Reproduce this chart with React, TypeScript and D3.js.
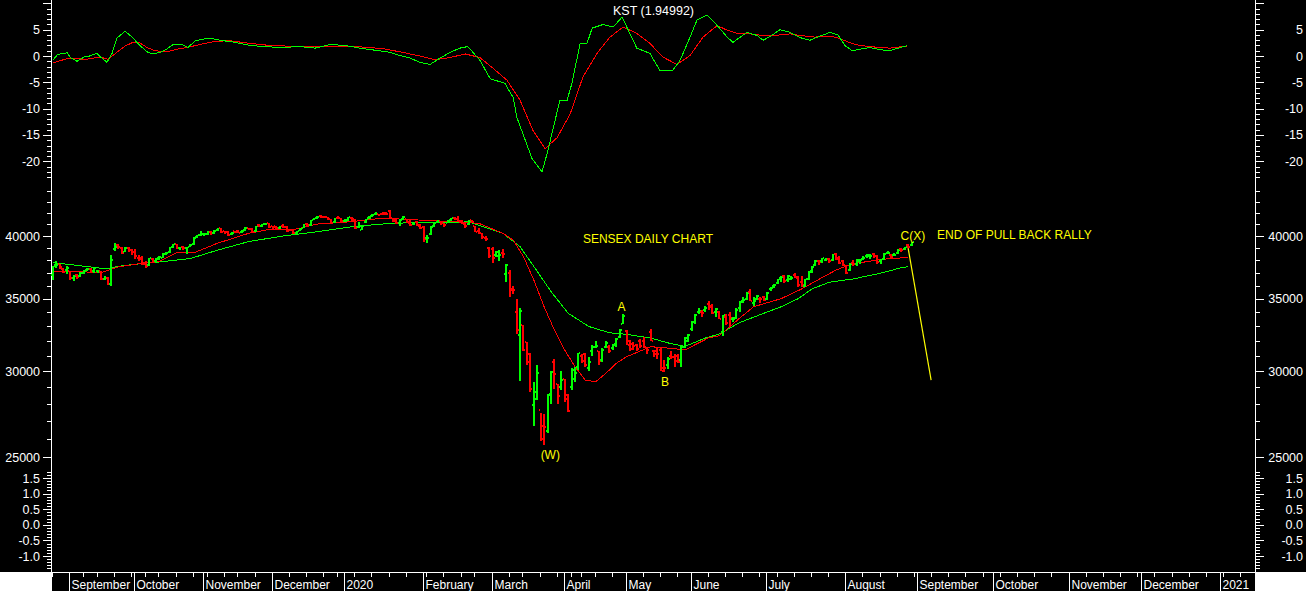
import React from 'react';
import * as d3 from 'd3';

// ---------- calendar ----------
const calendarStart = '2019-08-26';
const calendarEnd = '2021-01-16';
const pastHolidays = [
  '2019-09-02', '2019-09-10', '2019-10-02', '2019-10-08', '2019-10-21', '2019-10-28',
  '2019-11-12', '2019-12-25', '2020-02-21', '2020-03-10', '2020-04-02', '2020-04-06',
  '2020-04-10', '2020-04-14', '2020-05-01', '2020-05-25',
];
const specialSessions = ['2019-10-27', '2020-02-01'];
const monthNames = ['', 'February', 'March', 'April', 'May', 'June', 'July', 'August', 'September', 'October', 'November', 'December'];

// ---------- SENSEX daily OHLC [open, high, low, close] ----------
const aug2019 = [
  [36850, 37550, 36450, 37494], [37600, 37900, 37350, 37641], [37650, 37700, 37300, 37451],
  [37300, 37400, 36950, 37068], [37200, 37500, 36900, 37332],
];
const sep2019 = [
  [37100, 37150, 36450, 36563], [36600, 36800, 36350, 36725], [36800, 36900, 36500, 36644],
  [36700, 37050, 36650, 36982], [37000, 37200, 36900, 37145], [37200, 37400, 37100, 37271],
  [37300, 37350, 37050, 37104], [37100, 37450, 37000, 37385], [37100, 37200, 36950, 37123],
  [37100, 37150, 36450, 36481], [36500, 36750, 36400, 36564], [36600, 36650, 36050, 36094],
  [36100, 38380, 35990, 38015], [38900, 39440, 38750, 39090], [39200, 39300, 38900, 39098],
  [39000, 39050, 38500, 38593], [38700, 39050, 38650, 38990], [39000, 39100, 38700, 38823],
  [38800, 38900, 38400, 38667],
];
const oct2019 = [
  [38700, 38950, 38100, 38306], [38200, 38400, 37900, 38106], [38200, 38300, 37600, 37673],
  [37700, 37900, 37400, 37532], [37600, 38200, 37500, 38178], [38100, 38200, 37800, 37880],
  [37900, 38200, 37850, 38127], [38200, 38300, 38000, 38214], [38200, 38550, 38150, 38506],
  [38500, 38650, 38400, 38598], [38700, 39100, 38600, 39052], [39100, 39350, 39000, 39298],
  [39300, 39350, 38900, 38964], [39000, 39100, 38800, 39059], [39100, 39150, 38800, 39020],
  [39000, 39100, 38500, 39058], [39100, 39300, 39050, 39250], [39300, 39900, 39250, 39832],
  [39900, 40100, 39800, 40051], [40100, 40400, 40000, 40129],
];
const nov2019 = [
  [40150, 40250, 40000, 40165], [40200, 40400, 40100, 40302], [40350, 40400, 40050, 40248],
  [40250, 40500, 40200, 40469], [40500, 40700, 40450, 40654], [40650, 40700, 40250, 40324],
  [40400, 40450, 40200, 40345], [40350, 40450, 40000, 40116], [40200, 40350, 40100, 40287],
  [40400, 40450, 40250, 40357], [40400, 40500, 40250, 40284], [40300, 40500, 40250, 40470],
  [40500, 40800, 40450, 40651], [40650, 40700, 40500, 40575], [40600, 40650, 40300, 40359],
  [40400, 40900, 40350, 40890], [40950, 41000, 40750, 40821], [40850, 41050, 40800, 41021],
  [41050, 41160, 40950, 41130], [41100, 41100, 40700, 40794],
];
const dec2019 = [
  [40850, 40900, 40600, 40802], [40850, 40900, 40600, 40675], [40700, 40900, 40600, 40850],
  [40850, 41000, 40700, 40780], [40800, 40850, 40350, 40445], [40500, 40600, 40400, 40487],
  [40500, 40550, 40200, 40240], [40250, 40450, 40150, 40413], [40450, 40650, 40400, 40582],
  [40700, 41050, 40650, 41010], [41050, 41100, 40900, 40939], [40950, 41400, 40900, 41353],
  [41400, 41600, 41350, 41559], [41600, 41700, 41500, 41674], [41700, 41810, 41600, 41682],
  [41650, 41750, 41550, 41642], [41650, 41650, 41400, 41461], [41450, 41500, 41100, 41164],
  [41200, 41600, 41150, 41575], [41600, 41700, 41500, 41558], [41550, 41600, 41200, 41254],
];
const jan2020 = [
  [41300, 41450, 41200, 41306], [41350, 41650, 41300, 41626], [41600, 41650, 41300, 41465],
  [41400, 41450, 40600, 40677], [40800, 41250, 40700, 40869], [40500, 40850, 40480, 40818],
  [41200, 41500, 41100, 41452], [41600, 41750, 41500, 41600], [41700, 41900, 41650, 41860],
  [41950, 42050, 41800, 41952], [41900, 41950, 41700, 41873], [41950, 42050, 41850, 41933],
  [42000, 42060, 41850, 41945], [42200, 42270, 41450, 41528], [41550, 41600, 41250, 41324],
  [41400, 41550, 41050, 41116], [41100, 41450, 40900, 41386], [41450, 41700, 41400, 41613],
  [41500, 41500, 41100, 41155], [41250, 41400, 40900, 40967], [41000, 41250, 40950, 41199],
  [41250, 41300, 40850, 40914], [40900, 41050, 40600, 40723],
];
const feb2020 = [
  [40800, 40900, 39500, 39736], [39800, 40100, 39400, 39872], [40200, 40850, 40100, 40790],
  [40900, 41200, 40800, 41142], [41200, 41400, 41100, 41306], [41300, 41300, 40950, 41142],
  [41100, 41100, 40800, 40980], [41150, 41400, 41100, 41216], [41350, 41600, 41300, 41566],
  [41600, 41650, 41350, 41460], [41500, 41700, 41200, 41258], [41300, 41400, 41000, 41056],
  [41100, 41150, 40700, 40894], [41000, 41350, 40950, 41323], [41350, 41400, 41100, 41170],
  [40900, 40900, 40300, 40363], [40450, 40700, 40200, 40282], [40250, 40250, 39750, 39889],
  [39800, 40000, 39600, 39746], [39000, 39100, 38200, 38297],
];
const mar2020 = [
  [38900, 39080, 37790, 38144], [38390, 38750, 38220, 38623], [38300, 38830, 37900, 38409],
  [38600, 38900, 38200, 38471], [36900, 37650, 36300, 37577], [36950, 37200, 35110, 35635],
  [35700, 36000, 35350, 35697], [34000, 35000, 32490, 32778], [32400, 34300, 29390, 34103],
  [33100, 33100, 31300, 31390], [31900, 31950, 30400, 30579], [31100, 31200, 28700, 28870],
  [27900, 29300, 26710, 28288], [28700, 30400, 28200, 29916], [27600, 27460, 25880, 25981],
  [26700, 27400, 25640, 26674], [26400, 28600, 26300, 28536], [28600, 30000, 28000, 29947],
  [30600, 30800, 28900, 29816], [29200, 29200, 28000, 28440], [29000, 30000, 28800, 29468],
];
const apr2020 = [
  [29500, 29500, 28100, 28265], [28500, 28600, 27500, 27591], [29000, 30200, 28800, 30067],
  [29500, 30300, 29300, 29894], [30300, 31200, 30100, 31160], [31000, 31100, 30500, 30690],
  [31100, 31200, 30300, 30380], [30200, 30900, 30000, 30603], [31300, 31700, 31000, 31589],
  [31600, 32000, 31500, 31648], [31300, 31300, 30400, 30637], [30700, 31500, 30600, 31380],
  [31600, 32000, 31500, 31863], [31600, 31700, 31200, 31327], [31500, 31800, 31400, 31744],
  [31800, 32200, 31600, 32115], [32300, 32800, 32200, 32720], [33200, 33890, 33170, 33718],
];
const may2020 = [
  [32700, 32750, 31700, 31715], [32000, 32050, 31300, 31453], [31800, 31900, 31400, 31686],
  [31700, 31800, 31300, 31443], [32000, 32100, 31550, 31642], [32000, 32300, 31500, 31561],
  [31500, 31600, 31100, 31371], [32600, 32850, 32000, 32009], [31300, 31400, 30900, 31122],
  [31300, 31500, 30800, 31098], [31400, 31500, 30000, 30029], [30200, 30700, 29970, 30196],
  [30400, 30900, 30150, 30819], [31000, 31300, 30800, 30932], [30900, 31100, 30300, 30673],
  [31000, 31100, 30500, 30609], [30700, 31700, 30300, 31605], [31600, 32300, 31500, 32201],
  [32000, 32500, 31900, 32424],
];
const jun2020 = [
  [32800, 33400, 32700, 33304], [33300, 33900, 33200, 33825], [34000, 34300, 33900, 34110],
  [34000, 34200, 33700, 33981], [34200, 34500, 34000, 34287], [34600, 34800, 34200, 34371],
  [34500, 34600, 33900, 33957], [34000, 34300, 33700, 34248], [34000, 34100, 33500, 33538],
  [32600, 33800, 32350, 33781], [33700, 33900, 33100, 33229], [33800, 34000, 33000, 33606],
  [33500, 33700, 33300, 33508], [33600, 34300, 33500, 34208], [34300, 34800, 34000, 34732],
  [34800, 35100, 34700, 34911], [35000, 35500, 34900, 35431], [35500, 35700, 34800, 34868],
  [34700, 35100, 34500, 34843], [35000, 35250, 34900, 35171], [35000, 35100, 34700, 34962],
  [35100, 35200, 34800, 34916],
];
const jul2020 = [
  [35000, 35500, 34900, 35414], [35700, 35900, 35600, 35843], [36000, 36100, 35800, 36022],
  [36200, 36500, 36100, 36487], [36600, 36700, 36300, 36675], [36700, 36800, 36200, 36330],
  [36400, 36800, 36300, 36738], [36500, 36700, 36400, 36594], [36800, 37000, 36600, 36694],
  [36600, 36700, 35900, 36033], [36300, 36700, 35900, 36052], [36000, 36500, 35900, 36472],
  [36500, 37100, 36400, 37020], [37100, 37500, 37000, 37418], [37600, 37990, 37500, 37930],
  [37900, 38000, 37600, 37872], [37900, 38200, 37800, 38140], [38000, 38200, 37900, 38129],
  [38100, 38200, 37800, 37935], [38000, 38500, 37900, 38493], [38500, 38600, 38000, 38071],
  [38200, 38300, 37700, 37736], [37900, 38000, 37500, 37607],
];
const aug2020 = [
  [37500, 37600, 36900, 36940], [37200, 37800, 37100, 37688], [37800, 38000, 37500, 37663],
  [37700, 38100, 37500, 38025], [37900, 38100, 37700, 38040], [38100, 38300, 38000, 38182],
  [38300, 38500, 38200, 38407], [38300, 38500, 38100, 38370], [38500, 38600, 38200, 38310],
  [38300, 38400, 37700, 37877], [37900, 38100, 37700, 38051], [38100, 38600, 38000, 38528],
  [38600, 38750, 38500, 38615], [38400, 38500, 38100, 38220], [38400, 38600, 38300, 38434],
  [38600, 38900, 38500, 38799], [38900, 39000, 38700, 38844], [38900, 39100, 38800, 39074],
  [39200, 39300, 39000, 39113], [39200, 39500, 39150, 39467],
];

// ---------- moving averages [trading day index, price] ----------
const maRed = [
  [0, 37100], [6, 37100], [14, 37000], [19, 37450], [27, 37800], [31, 37900], [36, 38600],
  [41, 38600], [48, 39400], [57, 40230], [63, 40570], [71, 40600], [77, 41030], [87, 41240],
  [96, 41550], [106, 41390], [116, 41250], [124, 41090], [131, 40230], [134, 39660],
  [137, 38280], [140, 36430], [143, 34410], [146, 32750], [149, 31390], [152, 30290],
  [155, 29440], [158, 29340], [161, 29870], [164, 30510], [167, 30940], [174, 31610],
  [180, 31500], [184, 31390], [191, 32220], [194, 32350], [200, 33600], [204, 34410],
  [212, 35010], [218, 35740], [224, 36620], [228, 37200], [233, 37740], [237, 37870],
  [241, 38060], [249, 38220],
];
const maGreen = [
  [0, 37800], [14, 37350], [16, 37300], [19, 37500], [28, 37800], [31, 37850], [40, 38130],
  [48, 38820], [57, 39530], [67, 40000], [77, 40370], [87, 40800], [96, 41030], [106, 41180],
  [116, 41150], [121, 41230], [131, 40230], [136, 39100], [141, 37100], [145, 35550],
  [150, 33940], [156, 33000], [162, 32560], [167, 32450], [174, 32200], [180, 31810],
  [184, 31630], [190, 32200], [194, 32470], [200, 33280], [207, 33940], [212, 34410],
  [217, 35010], [221, 35740], [226, 36250], [233, 36510], [241, 36960], [247, 37390],
  [249, 37480],
];

// ---------- KST [trading day index, value] ----------
const kstLine = [
  [0, -0.8], [1.2, 0.2], [2, 0.4], [3.5, 0.4], [4.1, 0.7], [5, -0.3], [7, -1.0], [9.3, -0.1],
  [10.2, -0.1], [12.8, 0.5], [13.7, -0.1], [15.7, -1.2], [17.2, 0.5], [18.6, 3.4], [21, 4.7],
  [23, 3.6], [25.3, 2.0], [27.4, 0.8], [28.8, 0.4], [31.2, 0.7], [32.6, 1.1], [35, 2.2],
  [37.6, 2.2], [39.3, 1.6], [41.4, 2.9], [42.8, 3.1], [45.7, 3.4], [48.6, 3.0], [53, 2.6],
  [57.4, 2.0], [61.7, 1.8], [66.1, 1.6], [71.9, 1.8], [76.3, 1.5], [80.7, 2.2], [85, 2.0],
  [89.4, 1.5], [93.8, 1.1], [98.1, 0.7], [101, 0.1], [104, -0.4], [106.9, -1.2],
  [109.8, -1.6], [112.7, -0.4], [115.6, 0.7], [118.5, 1.5], [120.8, 1.8], [124.3, -0.8],
  [127.3, -4.3], [131.6, -5.2], [134, -7.9], [135.1, -11.7], [139.5, -19.5], [142.4, -22],
  [143.9, -18.5], [145.3, -14.7], [147.6, -8.4], [149.7, -8.4], [151.1, -5.2], [153.5, 2.4],
  [155.5, 2.4], [157, 5.3], [160.2, 6.0], [163.1, 5.5], [165.7, 7.4], [167.1, 5.5],
  [170, 1.5], [173.8, 0.5], [176.7, -2.7], [180.5, -2.7], [182.6, -0.8], [185.5, 3.6],
  [187.5, 6.8], [190.4, 7.8], [193.4, 5.8], [196.3, 3.6], [198, 2.6], [202.1, 4.5],
  [205, 3.9], [206.8, 3.0], [208.8, 3.7], [211.7, 5.0], [214.6, 4.5], [217.5, 3.5],
  [220.4, 3.0], [223.4, 3.8], [226.3, 4.5], [228.6, 4.0], [230.6, 2.0], [232.7, 1.0],
  [235, 1.3], [237.9, 1.6], [240.8, 1.2], [243.7, 1.0], [246.1, 1.5], [248.7, 1.95],
];
const kstSignal = [
  [0, -1.3], [4.1, -0.5], [9.9, -0.6], [13.7, -0.2], [16, -0.6], [18.6, 0.7], [21, 1.9],
  [23.3, 2.6], [25.3, 2.5], [27.4, 1.6], [29.7, 1.0], [33.2, 0.8], [36.1, 1.3], [39, 1.6],
  [42.8, 2.2], [47.2, 2.8], [51.5, 2.9], [57.4, 2.4], [63.2, 2.0], [71.9, 1.8], [80.7, 1.9],
  [86.5, 1.9], [96, 1.4], [101, 0.8], [106.9, 0.0], [111.2, -0.7], [115.6, -0.3],
  [120, 0.4], [124.3, -0.3], [128.1, -2.3], [132.2, -4.6], [136, -8.4], [139.8, -14.2],
  [143.3, -17.6], [146.8, -15.5], [150.6, -11.0], [154.3, -4.0], [158.4, 0.5], [162.2, 3.6],
  [166, 5.5], [170, 4.3], [173.8, 2.4], [177.6, -0.2], [181.7, -1.6], [185.5, 0.1],
  [189.3, 3.6], [193.4, 5.8], [196.3, 4.9], [199.2, 4.3], [203, 4.2], [206.8, 3.9],
  [211.7, 4.0], [214.6, 4.2], [217.5, 3.9], [221.8, 3.6], [226.3, 3.8], [229.2, 3.3],
  [232.1, 2.5], [235, 2.0], [239.4, 1.7], [243.7, 1.5], [248.7, 1.9],
];

// ---------- annotations ----------
const kstTitle = 'KST (1.94992)';
const priceNotes = [
  { text: 'SENSEX DAILY CHART', i: 154.6, p: 39410, anchor: 'start' },
  { text: 'END OF PULL BACK RALLY', i: 257.7, p: 39745, anchor: 'start' },
  { text: 'C(X)', i: 247.1, p: 39703, anchor: 'start' },
  { text: 'A', i: 165.8, p: 34090, anchor: 'middle' },
  { text: 'B', i: 178.5, p: 29068, anchor: 'middle' },
  { text: '(W)', i: 145.1, p: 24887, anchor: 'middle' },
];
const projection = [[249, 38990], [255.7, 29444]];

const kstTicks = d3.range(-23, 11);
const priceTicks = d3.range(25000, 44001, 1000);
const bottomTicks = d3.range(-14, 18).map((v) => v / 10);

const FONT = '"Liberation Sans", Arial, Helvetica, sans-serif';

function buildCalendar() {
  const fmt = d3.utcFormat('%Y-%m-%d');
  const out = [];
  for (const d of d3.utcDay.range(new Date(calendarStart), new Date(calendarEnd))) {
    const s = fmt(d);
    const wd = d.getUTCDay();
    if (specialSessions.includes(s) || (wd !== 0 && wd !== 6 && !pastHolidays.includes(s))) out.push(d);
  }
  return out;
}

export default function App() {
  const days = buildCalendar();
  const ohlc = [...aug2019, ...sep2019, ...oct2019, ...nov2019, ...dec2019, ...jan2020, ...feb2020,
    ...mar2020, ...apr2020, ...may2020, ...jun2020, ...jul2020, ...aug2020];

  const x = d3.scaleLinear().domain([0, 350.3]).range([52, 1255]);
  const yP = d3.scaleLog().domain([25000, 40000]).range([457, 236]);
  const yK = d3.scaleLinear().domain([-20, 5]).range([161.3, 29.7]);
  const yB = d3.scaleLinear().domain([-1, 1.5]).range([556, 478]);
  const cx = (i) => x(i) + 1;

  const lineP = d3.line().x((d) => cx(d[0])).y((d) => yP(d[1]));
  const lineK = d3.line().x((d) => cx(d[0])).y((d) => yK(d[1]));

  // month boundaries & weekly ticks
  const months = [];
  const weeks = [];
  days.forEach((d, i) => {
    const prev = days[i - 1];
    if (!prev || d3.utcMonday.floor(prev).getTime() !== d3.utcMonday.floor(d).getTime()) weeks.push(i);
    if (prev && prev.getUTCMonth() !== d.getUTCMonth()) {
      const m = d.getUTCMonth();
      months.push({ i, label: m === 0 ? String(d.getUTCFullYear()) : monthNames[m] });
    }
  });

  const tickRows = [];
  kstTicks.forEach((v) => tickRows.push({ y: yK(v), major: v % 5 === 0, label: v % 5 === 0 && v <= 5 ? String(v) : null }));
  priceTicks.forEach((v) => tickRows.push({ y: yP(v), major: v % 5000 === 0, label: v % 5000 === 0 && v <= 40000 ? String(v) : null }));
  bottomTicks.forEach((v) => {
    const k = Math.round(v * 10);
    tickRows.push({ y: yB(v), major: k % 5 === 0, label: k % 5 === 0 && k <= 15 && k >= -10 ? v.toFixed(1) : null });
  });

  const GREEN = '#00ff00';
  const RED = '#ff0000';
  const YELLOW = '#ffff00';

  return (
    <svg width={1306} height={591} style={{ position: 'absolute', left: 0, top: 0, display: 'block' }}
      fontFamily={FONT}>
      <rect x={0} y={0} width={1306} height={591} fill="#ffffff" />
      <rect x={0} y={0} width={1306} height={572} fill="#000000" />
      <rect x={52} y={572} width={1203} height={19} fill="#000000" />

      {/* axes */}
      <g stroke="#ffffff" strokeWidth={1} shapeRendering="crispEdges">
        <line x1={51.5} y1={0} x2={51.5} y2={572} />
        <line x1={1255.5} y1={0} x2={1255.5} y2={572} />
        <line x1={52} y1={572.5} x2={1255} y2={572.5} />
        {tickRows.map((t, k) => {
          const yy = Math.round(t.y) + 0.5;
          const len = t.major ? 8 : 4;
          return (
            <g key={k}>
              <line x1={51 - len} y1={yy} x2={51} y2={yy} />
              <line x1={1256} y1={yy} x2={1256 + len} y2={yy} />
            </g>
          );
        })}
        {weeks.map((i) => (
          <line key={'w' + i} x1={Math.round(x(i)) + 0.5} y1={573} x2={Math.round(x(i)) + 0.5} y2={577} />
        ))}
        {months.map((m) => (
          <line key={'m' + m.i} x1={Math.round(x(m.i)) + 0.5} y1={573} x2={Math.round(x(m.i)) + 0.5} y2={591} />
        ))}
      </g>
      <g fill="#ffffff" fontSize={12.5}>
        {tickRows.filter((t) => t.label).map((t, k) => (
          <g key={k}>
            <text x={40} y={t.y + 4.5} textAnchor="end">{t.label}</text>
            <text x={1303} y={t.y + 4.5} textAnchor="end">{t.label}</text>
          </g>
        ))}
      </g>
      <g fill="#ffffff" fontSize={12}>
        {months.filter((m) => x(m.i) < 1250).map((m) => (
          <text key={m.i} x={Math.round(x(m.i)) + 2.5} y={589}>{m.label}</text>
        ))}
      </g>

      {/* KST panel */}
      <text x={653.5} y={14.5} fill="#ffffff" fontSize={12.5} textAnchor="middle">{kstTitle}</text>
      <g shapeRendering="crispEdges">
        <path d={lineK(kstSignal)} fill="none" stroke={RED} strokeWidth={1} />
        <path d={lineK(kstLine)} fill="none" stroke={GREEN} strokeWidth={1} />
      </g>

      {/* price panel */}
      <g shapeRendering="crispEdges">
        <path d={lineP(maGreen)} fill="none" stroke={GREEN} strokeWidth={1} />
        <path d={lineP(maRed)} fill="none" stroke={RED} strokeWidth={1} />
      </g>
      <g shapeRendering="crispEdges">
        {ohlc.map((b, i) => {
          const [o, h, l, c] = b;
          const col = c >= o ? GREEN : RED;
          const bx = Math.round(x(i));
          const top = Math.round(yP(h));
          const bot = Math.round(yP(l));
          return (
            <g key={i} fill={col}>
              <rect x={bx} y={top} width={2} height={Math.max(2, bot - top)} />
              <rect x={bx - 1} y={Math.round(yP(o)) - 1} width={1} height={2} />
              <rect x={bx + 2} y={Math.round(yP(c)) - 1} width={1} height={2} />
            </g>
          );
        })}
      </g>
      <path d={lineP(projection)} fill="none" stroke={YELLOW} strokeWidth={1.2} />
      <g fill={YELLOW} fontSize={12}>
        {priceNotes.map((n) => (
          <text key={n.text} x={x(n.i)} y={yP(n.p)} textAnchor={n.anchor}>{n.text}</text>
        ))}
      </g>
    </svg>
  );
}
